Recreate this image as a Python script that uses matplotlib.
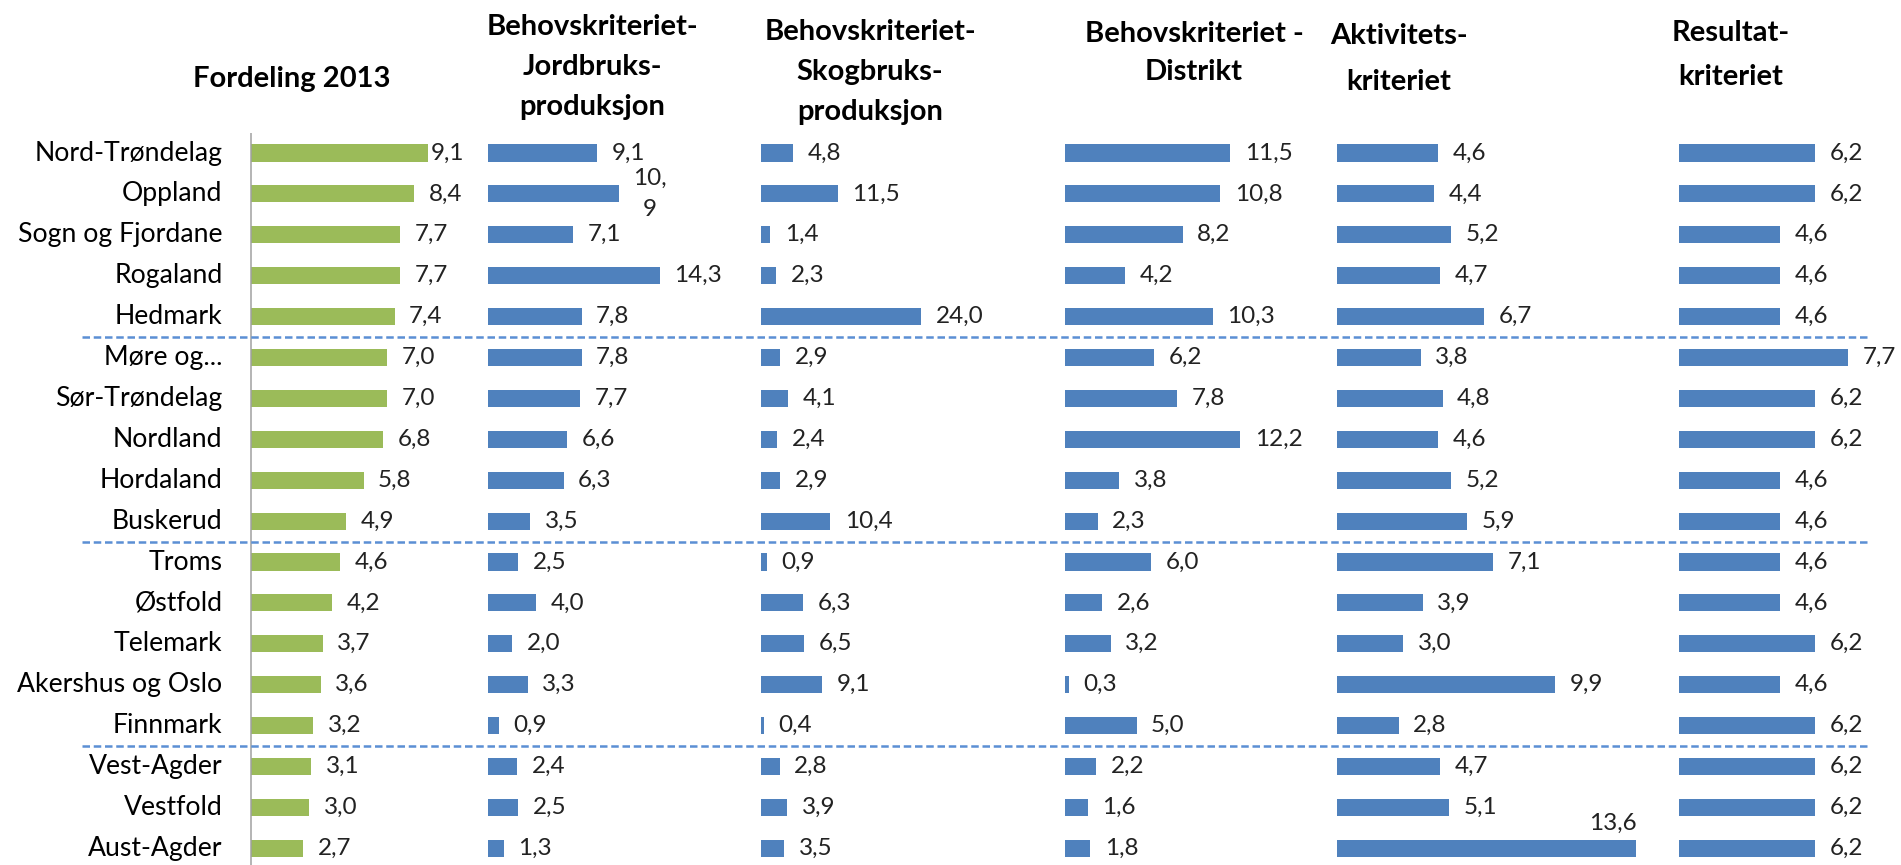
import matplotlib
matplotlib.use('Agg')
import matplotlib.pyplot as plt

# data
fylker = ['Nord-Trøndelag', 'Oppland', 'Sogn og Fjordane', 'Rogaland', 'Hedmark',
          'Møre og...', 'Sør-Trøndelag', 'Nordland', 'Hordaland', 'Buskerud',
          'Troms', 'Østfold', 'Telemark', 'Akershus og Oslo', 'Finnmark',
          'Vest-Agder', 'Vestfold', 'Aust-Agder']
fordeling = [9.1, 8.4, 7.7, 7.7, 7.4, 7.0, 7.0, 6.8, 5.8, 4.9, 4.6, 4.2, 3.7, 3.6, 3.2, 3.1, 3.0, 2.7]
jordbruk = [9.1, 10.9, 7.1, 14.3, 7.8, 7.8, 7.7, 6.6, 6.3, 3.5, 2.5, 4.0, 2.0, 3.3, 0.9, 2.4, 2.5, 1.3]
skogbruk = [4.8, 11.5, 1.4, 2.3, 24.0, 2.9, 4.1, 2.4, 2.9, 10.4, 0.9, 6.3, 6.5, 9.1, 0.4, 2.8, 3.9, 3.5]
distrikt = [11.5, 10.8, 8.2, 4.2, 10.3, 6.2, 7.8, 12.2, 3.8, 2.3, 6.0, 2.6, 3.2, 0.3, 5.0, 2.2, 1.6, 1.8]
aktivitet = [4.6, 4.4, 5.2, 4.7, 6.7, 3.8, 4.8, 4.6, 5.2, 5.9, 7.1, 3.9, 3.0, 9.9, 2.8, 4.7, 5.1, 13.6]
resultat = [6.2, 6.2, 4.6, 4.6, 4.6, 7.7, 6.2, 6.2, 4.6, 4.6, 4.6, 4.6, 6.2, 4.6, 6.2, 6.2, 6.2, 6.2]
titles = ['Fordeling 2013', 'Behovskriteriet-\nJordbruks-\nproduksjon',
          'Behovskriteriet-\nSkogbruks-\nproduksjon', 'Behovskriteriet -\nDistrikt',
          'Aktivitets-\nkriteriet', 'Resultat-\nkriteriet']
group_breaks = [4.5, 9.5, 14.5]

GREEN = '#9BBB59'
BLUE = '#4F81BD'
W, H = 1901, 865

# layout in pixels: bar start x, px per unit, title centre x/y, title line spacing
panels = [
    (fordeling, GREEN, 251, 19.4, 292, 79, 1.6),
    (jordbruk, BLUE, 488, 12.0, 592, 67, 1.68),
    (skogbruk, BLUE, 761, 6.67, 870, 72, 1.66),
    (distrikt, BLUE, 1064.5, 14.4, 1194, 53, 1.6),
    (aktivitet, BLUE, 1337, 22.0, 1399, 59, 1.95),
    (resultat, BLUE, 1679, 22.0, 1731, 55, 1.9),
]

row0, rowstep = 153, 40.9
ytop = -row0 / rowstep
ybot = (H - row0) / rowstep

plt.rcParams['font.family'] = ['Lato', 'DejaVu Sans']
fig = plt.figure(figsize=(W / 100, H / 100), dpi=100)

def fmt(v):
    return f'{v:.1f}'.replace('.', ',')

VAL_FS = 17.5
rows = list(range(len(fylker)))
axes = []
for k, (vals, col, x0, s, tx, ty, ls) in enumerate(panels):
    ax = fig.add_axes([0, 0, 1, 1])
    ax.patch.set_alpha(0)
    ax.set_xlim(-x0 / s, (W - x0) / s)
    ax.set_ylim(ybot, ytop)
    ax.axis('off')
    ax.barh(rows, vals, height=0.42, color=col)
    for i, v in zip(rows, vals):
        dx, dy, ha = 10.5, 0, 'left'
        if k == 0 and i == 0:
            dx = 2.5
        if k == 4 and i == 17:
            dx, dy, ha = 0, 18, 'right'
        txt = '10,\n9' if (k == 1 and i == 1) else fmt(v)
        ax.annotate(txt, (v, i), xytext=(dx, dy), textcoords='offset points',
                    va='center', ha=ha, multialignment='center',
                    fontsize=VAL_FS, color='#222222', linespacing=1.55)
    fig.text(tx / W, 1 - ty / H, titles[k], ha='center', va='center', fontsize=21,
             fontweight='bold', linespacing=ls)
    axes.append(ax)

ax0 = axes[0]
ax0.vlines(0, -0.5, ybot, color='#a0a0a0', lw=1.1)
for i, name in zip(rows, fylker):
    ax0.annotate(name, (0, i), xytext=(-20.5, 0), textcoords='offset points',
                 va='center', ha='right', fontsize=19.2, color='black')
for b in group_breaks:
    ax0.axhline(b, xmin=82 / W, xmax=1870 / W, color='#5B8FD4', lw=1.8,
                linestyle=(0, (3, 1.5)))

fig.savefig('out.png', dpi=100)
